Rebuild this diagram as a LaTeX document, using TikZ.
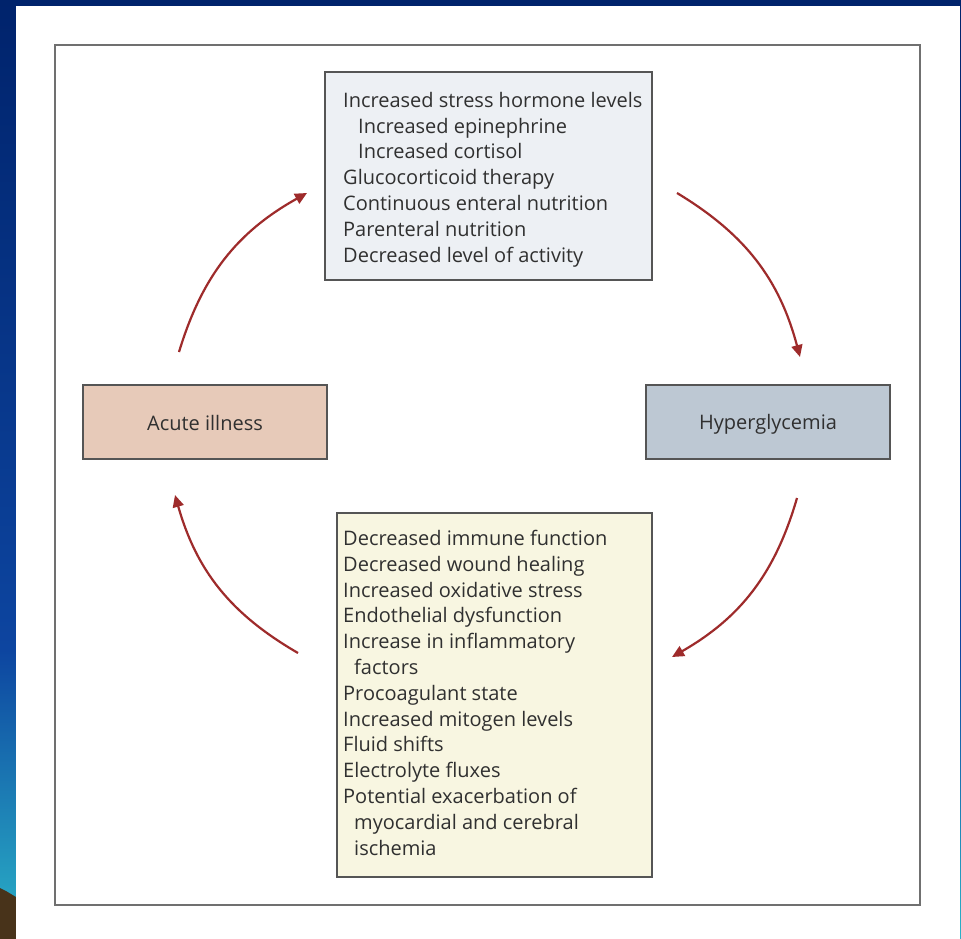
\documentclass[tikz,border=0pt]{standalone}
\usepackage{fontspec}
\setmainfont{Open Sans}
\usetikzlibrary{arrows.meta}
\definecolor{navy}{HTML}{00236C}
\definecolor{midblue}{HTML}{0D45A0}
\definecolor{cyanb}{HTML}{2BB3C8}
\definecolor{hill}{HTML}{48331A}
\definecolor{frame}{HTML}{707070}
\definecolor{boxline}{HTML}{555555}
\definecolor{topfill}{HTML}{EDF0F4}
\definecolor{acutefill}{HTML}{E7CAB9}
\definecolor{hyperfill}{HTML}{BDC8D3}
\definecolor{botfill}{HTML}{F8F6E1}
\definecolor{arrowred}{HTML}{9E2B2B}
\definecolor{txtcol}{HTML}{303030}
\tikzset{
  box/.style={draw=boxline, line width=1.5pt, inner sep=0pt},
  txt/.style={text=txtcol, font=\fontsize{20}{25.8}\selectfont, align=left, inner sep=0pt},
  cyc/.style={draw=arrowred, line width=2.2pt, -{Triangle[length=12pt,width=11pt]}, bend left=22}
}
\begin{document}
\begin{tikzpicture}[x=1pt,y=-1pt]
\useasboundingbox (0,0) rectangle (961,939);
% background
\shade[top color=navy, bottom color=midblue] (0,0) rectangle (961,650);
\shade[top color=midblue, bottom color=cyanb] (0,650) rectangle (961,939);
\fill[hill] (0,888) -- (6,891) -- (16,897) -- (16,939) -- (0,939) -- cycle;
\fill[white] (16,6) rectangle (959.5,939);
% frame
\draw[frame, line width=2pt] (55,45) rectangle (920,905);
% boxes
\node[box, fill=topfill, minimum width=327pt, minimum height=208pt] (causes) at (488.5,176) {};
\node[txt, anchor=north west] (causestext) at (343,92) {Increased stress hormone levels\\
\hspace*{15pt}Increased epinephrine\\
\hspace*{15pt}Increased cortisol\\
Glucocorticoid therapy\\
Continuous enteral nutrition\\
Parenteral nutrition\\
Decreased level of activity};
\node[box, fill=acutefill, minimum width=244pt, minimum height=74pt] (acute) at (205,422) {};
\node[txt, anchor=base] (acutetext) at (205,430) {Acute illness};
\node[box, fill=hyperfill, minimum width=244pt, minimum height=74pt] (hyper) at (768,422) {};
\node[txt, anchor=base] (hypertext) at (768,429) {Hyperglycemia};
\node[box, fill=botfill, minimum width=315pt, minimum height=364pt] (effects) at (494.5,695) {};
\node[txt, anchor=north west] (effectstext) at (343,530) {Decreased immune function\\
Decreased wound healing\\
Increased oxidative stress\\
Endothelial dysfunction\\
Increase in inflammatory\\
\hspace*{11pt}factors\\
Procoagulant state\\
Increased mitogen levels\\
Fluid shifts\\
Electrolyte fluxes\\
Potential exacerbation of\\
\hspace*{11pt}myocardial and cerebral\\
\hspace*{11pt}ischemia};
% arrow ends
\coordinate (a1s) at (179,352);
\coordinate (a1e) at (307,193);
\coordinate (a2s) at (677,193);
\coordinate (a2e) at (800,357);
\coordinate (a3s) at (797,498);
\coordinate (a3e) at (672,657);
\coordinate (a4s) at (298,653);
\coordinate (a4e) at (175,495);
\draw[cyc] (a1s) to (a1e);
\draw[cyc] (a2s) to (a2e);
\draw[cyc] (a3s) to (a3e);
\draw[cyc] (a4s) to (a4e);
\end{tikzpicture}
\end{document}
